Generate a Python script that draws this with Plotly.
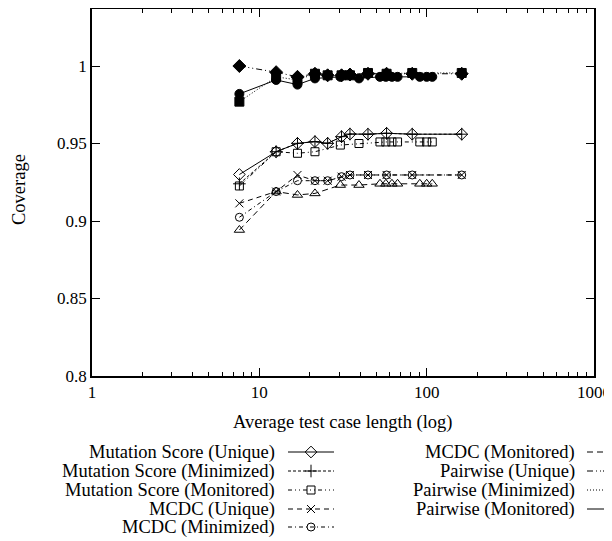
import plotly.graph_objects as go

# ---------------- data ----------------
x_unique = [7.6, 12.6, 16.9, 21.5, 25.6, 31.0, 34.8, 44.6, 57.6, 82.0, 162.0]
x_minimized = [7.6, 12.6, 16.9, 21.5, 25.6, 31.0, 34.8, 44.6, 57.6, 82.0, 162.0]
x_monitored = [7.6, 12.6, 16.9, 21.5, 30.5, 39.4, 52.6, 57.0, 62.0, 67.0, 91.0, 100.0, 108.0]

ms_unique = [0.9300, 0.9447, 0.9501, 0.9512, 0.9501, 0.9544, 0.9561, 0.9560, 0.9566, 0.9560, 0.9560]
ms_minimized = [0.9240, 0.9447, 0.9501, 0.9512, 0.9501, 0.9544, 0.9561, 0.9560, 0.9566, 0.9560, 0.9560]
ms_monitored = [0.9226, 0.9447, 0.9437, 0.9447, 0.9490, 0.9500, 0.9510, 0.9510, 0.9510, 0.9510, 0.9510, 0.9510, 0.9510]

mcdc_unique = [0.9114, 0.9190, 0.9297, 0.9260, 0.9260, 0.9286, 0.9297, 0.9297, 0.9297, 0.9297, 0.9297]
mcdc_minimized = [0.9024, 0.9190, 0.9260, 0.9260, 0.9260, 0.9286, 0.9297, 0.9297, 0.9297, 0.9297, 0.9297]
mcdc_monitored = [0.8942, 0.9190, 0.9168, 0.9178, 0.9232, 0.9232, 0.9240, 0.9240, 0.9240, 0.9240, 0.9240, 0.9240, 0.9240]

pw_unique = [1.0000, 0.9960, 0.9930, 0.9950, 0.9940, 0.9940, 0.9945, 0.9950, 0.9950, 0.9950, 0.9950]
pw_minimized = [0.9770, 0.9930, 0.9910, 0.9950, 0.9940, 0.9940, 0.9940, 0.9955, 0.9950, 0.9955, 0.9955]
pw_monitored = [0.9820, 0.9910, 0.9880, 0.9920, 0.9930, 0.9920, 0.9930, 0.9930, 0.9930, 0.9930, 0.9930, 0.9930, 0.9930]

series_names = [
    "Mutation Score (Unique)", "Mutation Score (Minimized)", "Mutation Score (Monitored)",
    "MCDC (Unique)", "MCDC (Minimized)", "MCDC (Monitored)",
    "Pairwise (Unique)", "Pairwise (Minimized)", "Pairwise (Monitored)",
]

x_tick_vals = [1, 10, 100, 1000]
x_tick_text = ["1", "10", "100", "1000"]
y_tick_vals = [0.8, 0.85, 0.9, 0.95, 1.0]
y_tick_text = ["0.8", "0.85", "0.9", "0.95", "1"]

# ---------------- layout geometry ----------------
FONT = "Liberation Serif"
TXT_SIZE = 18.5
TICK_SIZE = 17
OFF = 8                      # page body margin compensation
W, H = 612 - OFF, 541 - OFF  # figure size


def px(v):
    return v - OFF


PX_PER_UNIT = (376 - 66) / 0.2          # reference y scale (pixels per coverage unit)
L, R, B = px(92), px(594), px(376)      # plot frame in figure pixels
T = 1                                    # frame top (reference top at 4 lies above page)
Y_TOP = 0.8 + (B - T) / PX_PER_UNIT      # keeps reference y scale

styles = [
    dict(dash="solid", symbol="diamond-open", size=9),
    dict(dash="3px,2px", symbol="cross-thin-open", size=9),
    dict(dash="4px,3px,1px,3px,1px,3px", symbol="square-open", size=8),
    dict(dash="5px,4px", symbol="x-thin-open", size=8),
    dict(dash="4px,3px,1px,3px", symbol="circle-open", size=8),
    dict(dash="6px,4px", symbol="triangle-up-open", size=9),
    dict(dash="6px,3px,1px,3px,1px,3px", symbol="diamond", size=10),
    dict(dash="1px,2px", symbol="square", size=9),
    dict(dash="solid", symbol="circle", size=9),
]

xs = [x_unique, x_minimized, x_monitored] * 3
ys = [ms_unique, ms_minimized, ms_monitored,
      mcdc_unique, mcdc_minimized, mcdc_monitored,
      pw_unique, pw_minimized, pw_monitored]

fig = go.Figure()
for name, x, y, st in zip(series_names, xs, ys, styles):
    fig.add_trace(go.Scatter(
        x=x, y=y, mode="lines+markers", name=name, showlegend=False,
        line=dict(color="black", width=1, dash=st["dash"]),
        marker=dict(symbol=st["symbol"], size=st["size"], color="black",
                    line=dict(color="black", width=1)),
        xaxis="x", yaxis="y",
    ))

# ---------------- custom legend (text left, sample right) ----------------
leg_rows = [px(v) for v in (452, 471, 490, 509, 527)]
leg_cols = [(px(277), px(288), px(334)), (px(577), px(587), px(633))]
LEG_TOP = px(391)
for i, (name, st) in enumerate(zip(series_names, styles)):
    col = 0 if i < 5 else 1
    row = i if i < 5 else i - 5
    tx, sx0, sx1 = leg_cols[col]
    yy = leg_rows[row]
    fig.add_trace(go.Scatter(
        x=[sx0, (sx0 + sx1) / 2, sx1], y=[yy, yy, yy], mode="lines", showlegend=False,
        line=dict(color="black", width=1, dash=st["dash"]), hoverinfo="skip",
        xaxis="x2", yaxis="y2",
    ))
    fig.add_trace(go.Scatter(
        x=[(sx0 + sx1) / 2], y=[yy], mode="markers", showlegend=False,
        marker=dict(symbol=st["symbol"], size=st["size"], color="black",
                    line=dict(color="black", width=1)), hoverinfo="skip",
        xaxis="x2", yaxis="y2",
    ))
    fig.add_annotation(x=tx / W, y=1 - yy / H, xref="paper", yref="paper",
                       text=name, showarrow=False, xanchor="right", yanchor="middle",
                       font=dict(family=FONT, size=TXT_SIZE, color="black"))

# axis titles
fig.add_annotation(x=((L + R) / 2) / W, y=1 - px(422) / H, xref="paper", yref="paper",
                   text="Average test case length (log)", showarrow=False,
                   xanchor="center", yanchor="middle",
                   font=dict(family=FONT, size=TXT_SIZE, color="black"))
fig.add_annotation(x=px(19) / W, y=1 - px(190) / H, xref="paper", yref="paper",
                   text="Coverage", showarrow=False, textangle=-90,
                   xanchor="center", yanchor="middle",
                   font=dict(family=FONT, size=TXT_SIZE, color="black"))

minor_vals = [m * d for d in (1, 10, 100) for m in range(2, 10)]

fig.update_layout(
    width=W, height=H,
    margin=dict(l=0, r=0, t=0, b=0),
    paper_bgcolor="white", plot_bgcolor="rgba(0,0,0,0)",
    font=dict(family=FONT, size=TICK_SIZE, color="black"),
    xaxis=dict(
        type="log", range=[0, 3], domain=[L / W, R / W], anchor="y",
        showline=True, linecolor="black", linewidth=1.5, mirror="ticks",
        ticks="inside", ticklen=8, tickwidth=1, tickcolor="black",
        tickmode="array", tickvals=x_tick_vals, ticktext=x_tick_text,
        minor=dict(ticks="inside", ticklen=4, tickwidth=1, tickcolor="black",
                   tickmode="array", tickvals=minor_vals, showgrid=False),
        showgrid=False, zeroline=False, automargin=False,
        tickfont=dict(family=FONT, size=TICK_SIZE, color="black"),
    ),
    yaxis=dict(
        range=[0.8, Y_TOP], domain=[1 - B / H, 1 - T / H], anchor="x",
        showline=True, linecolor="black", linewidth=1.5, mirror="ticks",
        ticks="inside", ticklen=8, tickwidth=1, tickcolor="black",
        tickmode="array", tickvals=y_tick_vals, ticktext=y_tick_text,
        showgrid=False, zeroline=False, automargin=False,
        tickfont=dict(family=FONT, size=TICK_SIZE, color="black"),
    ),
    xaxis2=dict(domain=[0, 1], range=[0, W], visible=False, anchor="y2",
                fixedrange=True),
    yaxis2=dict(domain=[0, 1 - LEG_TOP / H], range=[H, LEG_TOP], visible=False,
                anchor="x2", fixedrange=True),
)

fig.write_html("out.html")
